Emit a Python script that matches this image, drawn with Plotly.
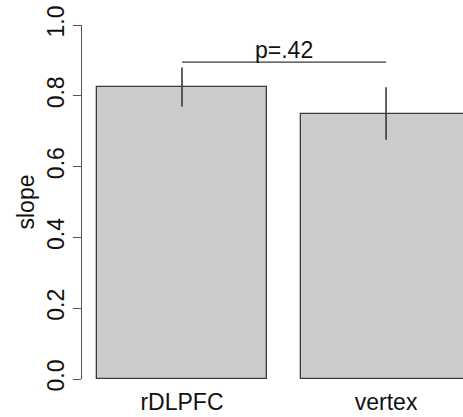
import plotly.graph_objects as go

categories = ["rDLPFC", "vertex"]
slope = [0.825, 0.750]
err = [0.055, 0.074]
y_ticks = [0.0, 0.2, 0.4, 0.6, 0.8, 1.0]
y_tick_labels = ["0.0", "0.2", "0.4", "0.6", "0.8", "1.0"]
sig_y = 0.895
sig_label = "p=.42"

FONT = "Liberation Sans, Arial, Helvetica, sans-serif"
xs = list(range(len(categories)))

fig = go.Figure()
fig.add_trace(go.Bar(
    x=xs, y=slope, width=1 / 1.2,
    marker=dict(color="#CCCCCC", line=dict(color="#3a3a3a", width=1.3)),
    error_y=dict(type="data", array=err, visible=True, thickness=1.6, width=0, color="#3a3a3a"),
    showlegend=False, hoverinfo="skip",
))
fig.add_trace(go.Scatter(
    x=[xs[0], xs[1]], y=[sig_y, sig_y], mode="lines",
    line=dict(color="#3a3a3a", width=1.3), showlegend=False, hoverinfo="skip",
))
fig.add_annotation(
    x=(xs[0] + xs[1]) / 2, y=sig_y, yanchor="bottom", yshift=-3,
    text=sig_label, showarrow=False, font=dict(family=FONT, size=23, color="#111"),
)

fig.update_layout(
    width=463, height=417,
    margin=dict(l=82, r=0, t=25, b=38),
    plot_bgcolor="white", paper_bgcolor="white",
    font=dict(family=FONT, size=23, color="#111"),
    bargap=0,
    xaxis=dict(
        range=[-0.490, 1.377], tickmode="array", tickvals=xs, ticktext=categories,
        showline=False, showgrid=False, zeroline=False, ticks="", ticklen=0,
        tickfont=dict(size=23), ticklabelstandoff=7,
    ),
    yaxis=dict(
        range=[0, 1], tickmode="array", tickvals=y_ticks, ticktext=y_tick_labels,
        showline=True, linecolor="#555", linewidth=1.2,
        ticks="outside", ticklen=8, tickcolor="#555", tickwidth=1.2,
        tickangle=-90, showgrid=False, zeroline=False,
        title=dict(text="slope", font=dict(size=23), standoff=1),
        tickfont=dict(size=23),
    ),
)

fig.write_html("out.html")
